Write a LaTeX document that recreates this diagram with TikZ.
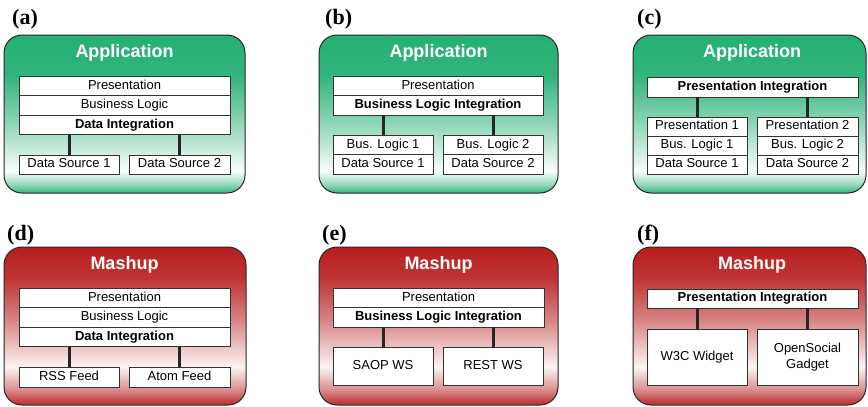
\documentclass[tikz,border=0pt]{standalone}
\usepackage{fontspec}
\setmainfont{Liberation Sans}
\newfontfamily\panelfont{Liberation Serif}
\usetikzlibrary{positioning}

\definecolor{appgreen}{RGB}{38,176,116}
\definecolor{mashred}{RGB}{184,30,30}
\pgfdeclareverticalshading{appshade}{100bp}{color(0bp)=(appgreen!95); color(25bp)=(appgreen!95); color(28bp)=(appgreen!45); color(32bp)=(appgreen!3); color(48bp)=(appgreen!55); color(62.5bp)=(appgreen!95); color(75bp)=(appgreen); color(100bp)=(appgreen)}
\pgfdeclareverticalshading{mashshade}{100bp}{color(0bp)=(mashred!95); color(25bp)=(mashred!95); color(30bp)=(mashred!50); color(37bp)=(mashred!5); color(52bp)=(mashred!55); color(65bp)=(mashred!90); color(75bp)=(mashred); color(100bp)=(mashred)}

\tikzset{
  frame/.style={draw=black!85, line width=1, rounded corners=18, shade},
  appframe/.style={frame, shading=appshade},
  mashframe/.style={frame, shading=mashshade},
  title/.style={text=white, anchor=base, inner sep=0, font=\bfseries\fontsize{18}{20}\selectfont},
  layer/.style={draw=black!80, line width=0.8, fill=white, outer sep=0, inner sep=0, align=center, font=\fontsize{13}{15.5}\selectfont},
  row/.style={layer, text height=9.5, text depth=2.8},
  keyrow/.style={row, font=\bfseries\fontsize{13}{15.5}\selectfont},
  wide/.style={minimum width=211, minimum height=19.5},
  link/.style={line width=3, black!85},
  panel/.style={anchor=west, inner sep=0, font=\panelfont\bfseries\fontsize{22}{24}\selectfont},
}

\begin{document}
\begin{tikzpicture}[x=1pt,y=-1pt]
\useasboundingbox (0,0) rectangle (868,407);

% (a) data integration
\node[panel] (a-lab) at (12,19) {(a)};
\draw[appframe] (4,35) rectangle (245,193);
\node[title] (a-title) at (124.5,57.5) {Application};
\node[row, wide] (a-pres) at (124.5,85.75) {Presentation};
\node[row, wide, below=0pt of a-pres] (a-bl) {Business Logic};
\node[keyrow, wide, below=0pt of a-bl] (a-di) {Data Integration};
\node[row, minimum width=100, minimum height=19] (a-ds1) at (69,164.5) {Data Source 1};
\node[row, minimum width=101, minimum height=19] (a-ds2) at (179.5,164.5) {Data Source 2};
\draw[link] (a-ds1.north) -- (a-ds1.north |- a-di.south);
\draw[link] (a-ds2.north) -- (a-ds2.north |- a-di.south);

% (b) business logic integration
\node[panel] (b-lab) at (325,19) {(b)};
\draw[appframe] (319,35) rectangle (558,193);
\node[title] (b-title) at (438.5,57.5) {Application};
\node[row, wide, minimum width=210] (b-pres) at (438,85.75) {Presentation};
\node[keyrow, wide, minimum width=210, below=0pt of b-pres] (b-bli) {Business Logic Integration};
\node[row, minimum width=100, minimum height=19.5] (b-bl1) at (383,144.75) {Bus. Logic 1};
\node[row, minimum width=100, minimum height=19.5, below=0pt of b-bl1] (b-ds1) {Data Source 1};
\node[row, minimum width=100, minimum height=19.5] (b-bl2) at (493,144.75) {Bus. Logic 2};
\node[row, minimum width=100, minimum height=19.5, below=0pt of b-bl2] (b-ds2) {Data Source 2};
\draw[link] (b-bl1.north) -- (b-bl1.north |- b-bli.south);
\draw[link] (b-bl2.north) -- (b-bl2.north |- b-bli.south);

% (c) presentation integration
\node[panel] (c-lab) at (637,19) {(c)};
\draw[appframe] (633,35) rectangle (866,193);
\node[title] (c-title) at (752,57.5) {Application};
\node[keyrow, wide, minimum height=20] (c-pi) at (752.5,87) {Presentation Integration};
\node[row, minimum width=100, minimum height=19] (c-p1) at (697,126.5) {Presentation 1};
\node[row, minimum width=100, minimum height=19, below=0pt of c-p1] (c-bl1) {Bus. Logic 1};
\node[row, minimum width=100, minimum height=19, below=0pt of c-bl1] (c-ds1) {Data Source 1};
\node[row, minimum width=101, minimum height=19] (c-p2) at (807.5,126.5) {Presentation 2};
\node[row, minimum width=101, minimum height=19, below=0pt of c-p2] (c-bl2) {Bus. Logic 2};
\node[row, minimum width=101, minimum height=19, below=0pt of c-bl2] (c-ds2) {Data Source 2};
\draw[link] (c-p1.north) -- (c-p1.north |- c-pi.south);
\draw[link] (c-p2.north) -- (c-p2.north |- c-pi.south);

% (d) feeds
\node[panel] (d-lab) at (7,235) {(d)};
\draw[mashframe] (4,247) rectangle (246,405);
\node[title] (d-title) at (124.5,269.5) {Mashup};
\node[row, wide] (d-pres) at (124.5,297.75) {Presentation};
\node[row, wide, below=0pt of d-pres] (d-bl) {Business Logic};
\node[keyrow, wide, below=0pt of d-bl] (d-di) {Data Integration};
\node[row, minimum width=100, minimum height=20] (d-rss) at (69,377) {RSS Feed};
\node[row, minimum width=101, minimum height=20] (d-atom) at (179.5,377) {Atom Feed};
\draw[link] (d-rss.north) -- (d-rss.north |- d-di.south);
\draw[link] (d-atom.north) -- (d-atom.north |- d-di.south);

% (e) web services
\node[panel] (e-lab) at (322,235) {(e)};
\draw[mashframe] (319,247) rectangle (558,405);
\node[title] (e-title) at (438.5,269.5) {Mashup};
\node[row, wide] (e-pres) at (438.5,297.75) {Presentation};
\node[keyrow, wide, below=0pt of e-pres] (e-bli) {Business Logic Integration};
\node[row, minimum width=100, minimum height=38] (e-soap) at (383,366) {SAOP WS};
\node[row, minimum width=100, minimum height=38] (e-rest) at (493,366) {REST WS};
\draw[link] (e-soap.north) -- (e-soap.north |- e-bli.south);
\draw[link] (e-rest.north) -- (e-rest.north |- e-bli.south);

% (f) widgets
\node[panel] (f-lab) at (637,235) {(f)};
\draw[mashframe] (633,247) rectangle (866,405);
\node[title] (f-title) at (752,269.5) {Mashup};
\node[keyrow, wide, minimum height=19] (f-pi) at (752.5,298.5) {Presentation Integration};
\node[layer, minimum width=100, minimum height=56] (f-w3c) at (697,357) {W3C Widget};
\node[layer, minimum width=101, minimum height=56] (f-os) at (807.5,357) {OpenSocial\\Gadget};
\draw[link] (f-w3c.north) -- (f-w3c.north |- f-pi.south);
\draw[link] (f-os.north) -- (f-os.north |- f-pi.south);
\end{tikzpicture}
\end{document}
